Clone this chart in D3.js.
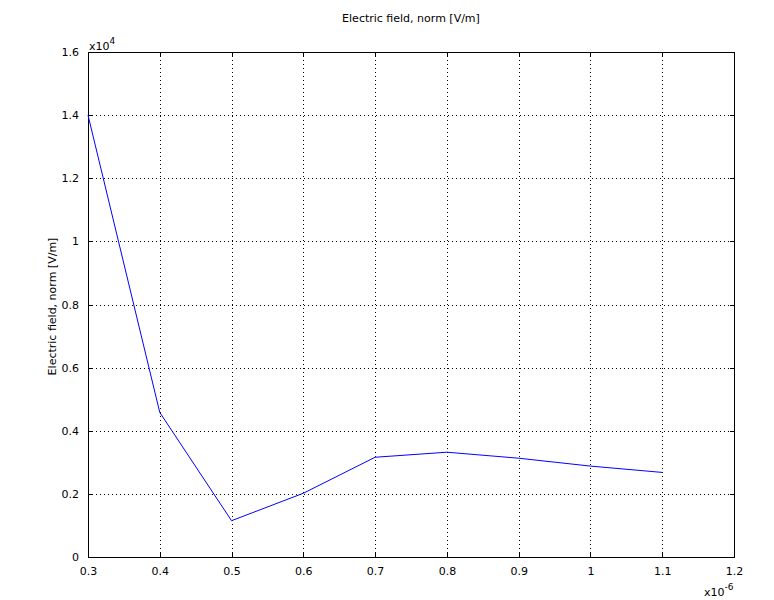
<!DOCTYPE html>
<html><head><meta charset="utf-8">
<script src="https://cdn.jsdelivr.net/npm/d3@7"></script>
<style>body{margin:0;background:#fff}svg{display:block}text{font-family:"DejaVu Sans",sans-serif;font-size:11px;fill:#000}</style>
</head><body>
<script>
const xValues = [0.3, 0.4, 0.5, 0.6, 0.7, 0.8, 0.9, 1.0, 1.1];
const yValues = [1.4, 0.458, 0.115, 0.202, 0.316, 0.332, 0.313, 0.288, 0.268];
const xTicks = [0.3, 0.4, 0.5, 0.6, 0.7, 0.8, 0.9, 1, 1.1, 1.2];
const yTicks = [0, 0.2, 0.4, 0.6, 0.8, 1, 1.2, 1.4, 1.6];
const title = "Electric field, norm [V/m]";

const W = 774, H = 600;
const L = 88, R = 734, T = 52, B = 557;
const svg = d3.select("body").append("svg").attr("width", W).attr("height", H);
const x = d3.scaleLinear().domain([0.3, 1.2]).range([L, R]);
const y = d3.scaleLinear().domain([0, 1.6]).range([B, T]);

const grid = svg.append("g").attr("stroke", "#000").attr("stroke-width", 1).attr("stroke-dasharray", "1,3").attr("shape-rendering", "crispEdges");
grid.selectAll(".gx").data(xTicks.slice(1, -1)).join("line")
  .attr("x1", d => Math.round(x(d)) + 0.5).attr("x2", d => Math.round(x(d)) + 0.5).attr("y1", T).attr("y2", B);
grid.selectAll(".gy").data(yTicks.slice(1, -1)).join("line")
  .attr("y1", d => Math.round(y(d)) + 0.5).attr("y2", d => Math.round(y(d)) + 0.5).attr("x1", L).attr("x2", R);

const fmt = d => String(+d.toFixed(1));
const ax = svg.append("g").attr("transform", `translate(0,${B})`)
  .call(d3.axisBottom(x).tickValues(xTicks).tickFormat(fmt).tickSizeInner(-4).tickSizeOuter(0).tickPadding(10));
const axT = svg.append("g").attr("transform", `translate(0,${T})`)
  .call(d3.axisTop(x).tickValues(xTicks).tickFormat("").tickSizeInner(-4).tickSizeOuter(0));
const ay = svg.append("g").attr("transform", `translate(${L},0)`)
  .call(d3.axisLeft(y).tickValues(yTicks).tickFormat(fmt).tickSizeInner(-4).tickSizeOuter(0).tickPadding(9));
const ayR = svg.append("g").attr("transform", `translate(${R},0)`)
  .call(d3.axisRight(y).tickValues(yTicks).tickFormat("").tickSizeInner(-4).tickSizeOuter(0));
[ax, axT, ay, ayR].forEach(g => {
  g.selectAll("path").remove();
  g.selectAll("line").attr("stroke", "#000").attr("shape-rendering", "crispEdges");
  g.selectAll("text").attr("font-family", "DejaVu Sans").attr("font-size", 11).attr("fill", "#000");
});
svg.append("rect").attr("x", L + 0.5).attr("y", T + 0.5).attr("width", R - L).attr("height", B - T)
  .attr("fill", "none").attr("stroke", "#000").attr("stroke-width", 1).attr("shape-rendering", "crispEdges");

const line = d3.line().x((d, i) => x(xValues[i])).y(d => y(d));
svg.append("path").datum(yValues).attr("d", line).attr("fill", "none").attr("stroke", "#0000ff").attr("stroke-width", 1);

svg.append("text").attr("x", 411).attr("y", 22).attr("text-anchor", "middle").text(title);
svg.append("text").attr("transform", `translate(56,${(T + B) / 2 + 2}) rotate(-90)`).attr("text-anchor", "middle").text(title);

const e1 = svg.append("text").attr("x", 89).attr("y", 50);
e1.append("tspan").text("x10");
e1.append("tspan").attr("dy", -6).attr("font-size", 9).text("4");
const e2 = svg.append("text").attr("x", 704).attr("y", 596);
e2.append("tspan").text("x10");
e2.append("tspan").attr("dy", -6).attr("font-size", 9).text("-6");
</script>
</body></html>
